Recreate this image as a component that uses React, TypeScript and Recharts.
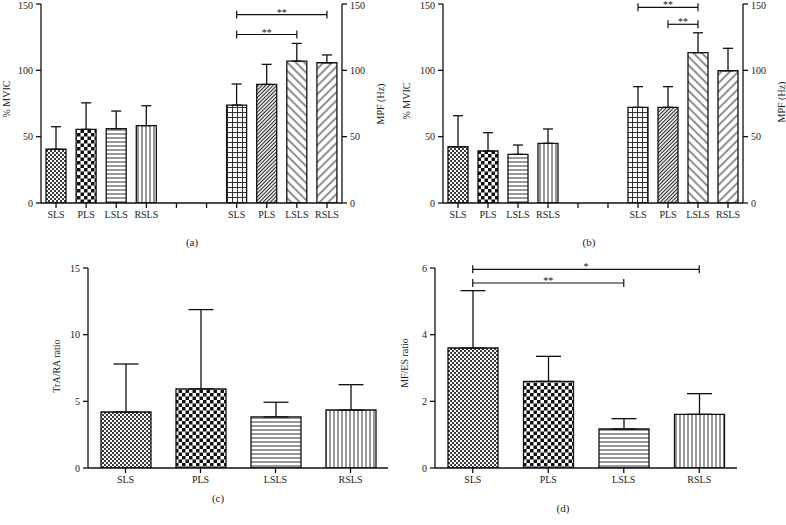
import React from "react";
import { ComposedChart, Bar, Line, XAxis, YAxis, ErrorBar, Cell, ReferenceLine } from "recharts";

// categories
const groupCats = ["SLS", "PLS", "LSLS", "RSLS"];
const gapCats = ["gap1", "gap2"];

// panel (a) – % MVIC (left group) and MPF in Hz (right group)
const emgA = [40.5, 55.5, 56, 58.3];
const emgAErr = [17, 20, 13.3, 15];
const mpfA = [73.8, 89.4, 107, 105.7];
const mpfAErr = [15.9, 15.1, 13.3, 5.9];

// panel (b)
const emgB = [42.4, 39.2, 36.7, 45];
const emgBErr = [23.4, 13.8, 7, 10.8];
const mpfB = [72.1, 72.1, 113.3, 99.7];
const mpfBErr = [15.6, 15.6, 15, 16.9];

// panel (c) – TrA/RA ratio
const traRa = [4.2, 5.93, 3.83, 4.35];
const traRaErr = [3.6, 5.95, 1.1, 1.9];

// panel (d) – MF/ES ratio
const mfEs = [3.6, 2.6, 1.17, 1.61];
const mfEsErr = [1.72, 0.75, 0.31, 0.62];

const ticksPct = [0, 50, 100, 150];
const ticksC = [0, 5, 10, 15];
const ticksD = [0, 2, 4, 6];

// significance brackets
const bracketsA = [
  { from: "m-SLS", to: "m-RSLS", y: 142, text: "**" },
  { from: "m-SLS", to: "m-LSLS", y: 127, text: "**" },
];
const bracketsB = [
  { from: "m-SLS", to: "m-LSLS", y: 147.5, text: "**" },
  { from: "m-PLS", to: "m-LSLS", y: 134.7, text: "**" },
];
const bracketsD = [
  { from: "SLS", to: "RSLS", y: 5.96, text: "*" },
  { from: "SLS", to: "LSLS", y: 5.55, text: "**" },
];

const leftFills = ["url(#fineCheck)", "url(#check)", "url(#hLines)", "url(#vLines)"];
const rightFills = ["url(#grid)", "url(#denseDiag)", "url(#backDiag)", "url(#fwdDiag)"];

type Row = { key: string; label: string; value: number | null; err: [number, number] | null; fill: string };

const makeSplitRows = (emg: number[], emgErr: number[], mpf: number[], mpfErr: number[]): Row[] => [
  ...groupCats.map((c, i) => ({ key: "e-" + c, label: c, value: emg[i], err: [0, emgErr[i]] as [number, number], fill: leftFills[i] })),
  ...gapCats.map((g) => ({ key: g, label: "", value: null, err: null, fill: "none" })),
  ...groupCats.map((c, i) => ({ key: "m-" + c, label: c, value: mpf[i], err: [0, mpfErr[i]] as [number, number], fill: rightFills[i] })),
];

const makeRows = (vals: number[], errs: number[]): Row[] =>
  groupCats.map((c, i) => ({ key: c, label: c, value: vals[i], err: [0, errs[i]] as [number, number], fill: leftFills[i] }));

const rowsA = makeSplitRows(emgA, emgAErr, mpfA, mpfAErr);
const rowsB = makeSplitRows(emgB, emgBErr, mpfB, mpfBErr);
const rowsC = makeRows(traRa, traRaErr);
const rowsD = makeRows(mfEs, mfEsErr);

const FONT = "'Liberation Serif', 'DejaVu Serif', serif";
const tickStyle = { fontSize: 10, fill: "#222", fontFamily: FONT };
const axisLine = { stroke: "#111", strokeWidth: 1.3 };

type Bracket = { from: string; to: string; y: number; text: string };

const renderBrackets = (list: Bracket[], half: number) =>
  list.flatMap((b, i) => [
    <ReferenceLine
      key={`h${i}`}
      yAxisId="left"
      segment={[{ x: b.from, y: b.y }, { x: b.to, y: b.y }]}
      stroke="#111"
      strokeWidth={1.2}
      ifOverflow="visible"
      label={{ value: b.text, position: "top", offset: -1, fontSize: 10, fill: "#111", fontFamily: FONT }}
    />,
    <ReferenceLine key={`l${i}`} yAxisId="left" segment={[{ x: b.from, y: b.y - half }, { x: b.from, y: b.y + half }]} stroke="#111" strokeWidth={1.2} ifOverflow="visible" />,
    <ReferenceLine key={`r${i}`} yAxisId="left" segment={[{ x: b.to, y: b.y - half }, { x: b.to, y: b.y + half }]} stroke="#111" strokeWidth={1.2} ifOverflow="visible" />,
  ]);

type PanelProps = {
  rows: Row[];
  width: number;
  height: number;
  margin: { top: number; right: number; bottom: number; left: number };
  yWidth: number;
  domain: [number, number];
  ticks: number[];
  barSize: number;
  capHalf: number;
  right?: boolean;
  brackets?: Bracket[];
  bracketHalf?: number;
};

const Panel = ({ rows, width, height, margin, yWidth, domain, ticks, barSize, capHalf, right, brackets, bracketHalf }: PanelProps) => (
  <ComposedChart width={width} height={height} data={rows} margin={margin} barSize={barSize} style={{ fontFamily: FONT }}>
    <XAxis
      dataKey="key"
      interval={0}
      tick={tickStyle}
      tickFormatter={(k: string) => rows.find((r) => r.key === k)?.label ?? ""}
      axisLine={axisLine}
      tickLine={axisLine}
      tickSize={5}
      tickMargin={3}
      height={30}
    />
    <YAxis
      yAxisId="left"
      domain={domain}
      ticks={ticks}
      width={yWidth}
      tick={tickStyle}
      axisLine={axisLine}
      tickLine={axisLine}
      tickSize={5}
      tickMargin={3}
      allowDataOverflow
    />
    {right && (
      <YAxis
        yAxisId="right"
        orientation="right"
        domain={domain}
        ticks={ticks}
        width={30}
        tick={tickStyle}
        axisLine={axisLine}
        tickLine={axisLine}
        tickSize={5}
        tickMargin={3}
        allowDataOverflow
      />
    )}
    <Bar yAxisId="left" dataKey="value" stroke="#111" strokeWidth={1.3} isAnimationActive={false}>
      {rows.map((r) => (
        <Cell key={r.key} fill={r.fill} />
      ))}
      <ErrorBar dataKey="err" width={capHalf} stroke="#111" strokeWidth={1.3} direction="y" />
    </Bar>
    {right && (
      <Line yAxisId="right" dataKey="value" stroke="none" dot={false} activeDot={false} isAnimationActive={false} />
    )}
    {brackets && renderBrackets(brackets, bracketHalf ?? 0)}
  </ComposedChart>
);

const Title = ({ x, y, text, rotate, size = 10 }: { x: number; y: number; text: string; rotate?: boolean; size?: number }) => (
  <div
    style={{
      position: "absolute",
      left: x,
      top: y,
      transform: `translate(-50%, -50%)${rotate ? " rotate(-90deg)" : ""}`,
      whiteSpace: "nowrap",
      fontFamily: FONT,
      fontSize: size,
      color: "#222",
      lineHeight: 1,
    }}
  >
    {text}
  </div>
);

const Patterns = () => (
  <svg width={0} height={0} style={{ position: "absolute" }}>
    <defs>
      <pattern id="fineCheck" width={4} height={4} patternUnits="userSpaceOnUse">
        <rect width={4} height={4} fill="#fff" />
        <rect width={2} height={2} fill="#3a3a3a" />
        <rect x={2} y={2} width={2} height={2} fill="#3a3a3a" />
      </pattern>
      <pattern id="check" width={7} height={7} patternUnits="userSpaceOnUse">
        <rect width={7} height={7} fill="#fff" />
        <rect width={3.5} height={3.5} fill="#111" />
        <rect x={3.5} y={3.5} width={3.5} height={3.5} fill="#111" />
      </pattern>
      <pattern id="hLines" width={4} height={4} patternUnits="userSpaceOnUse">
        <rect width={4} height={4} fill="#fff" />
        <line x1={0} y1={2} x2={4} y2={2} stroke="#333" strokeWidth={1} />
      </pattern>
      <pattern id="vLines" width={4} height={4} patternUnits="userSpaceOnUse">
        <rect width={4} height={4} fill="#fff" />
        <line x1={2} y1={0} x2={2} y2={4} stroke="#333" strokeWidth={1} />
      </pattern>
      <pattern id="grid" width={5} height={5} patternUnits="userSpaceOnUse">
        <rect width={5} height={5} fill="#fff" />
        <line x1={0} y1={2.5} x2={5} y2={2.5} stroke="#333" strokeWidth={1} />
        <line x1={2.5} y1={0} x2={2.5} y2={5} stroke="#333" strokeWidth={1} />
      </pattern>
      <pattern id="denseDiag" width={2.6} height={2.6} patternUnits="userSpaceOnUse" patternTransform="rotate(45)">
        <rect width={2.6} height={2.6} fill="#fff" />
        <line x1={1.3} y1={0} x2={1.3} y2={2.6} stroke="#222" strokeWidth={1.1} />
      </pattern>
      <pattern id="backDiag" width={6} height={6} patternUnits="userSpaceOnUse" patternTransform="rotate(-45)">
        <rect width={6} height={6} fill="#fff" />
        <line x1={3} y1={0} x2={3} y2={6} stroke="#222" strokeWidth={1} />
      </pattern>
      <pattern id="fwdDiag" width={6} height={6} patternUnits="userSpaceOnUse" patternTransform="rotate(45)">
        <rect width={6} height={6} fill="#fff" />
        <line x1={3} y1={0} x2={3} y2={6} stroke="#222" strokeWidth={1} />
      </pattern>
    </defs>
  </svg>
);

export default function App() {
  return (
    <div style={{ position: "absolute", left: 0, top: 0, width: 786, height: 525, background: "#fff", overflow: "hidden" }}>
      <Patterns />
      <div style={{ position: "absolute", left: 0, top: 0 }}>
        <Panel
          rows={rowsA}
          width={390}
          height={260}
          margin={{ top: 4, right: 18, bottom: 27, left: 10 }}
          yWidth={31}
          domain={[0, 150]}
          ticks={ticksPct}
          barSize={20}
          capHalf={5}
          right
          brackets={bracketsA}
          bracketHalf={3}
        />
      </div>
      <div style={{ position: "absolute", left: 390, top: 0 }}>
        <Panel
          rows={rowsB}
          width={396}
          height={260}
          margin={{ top: 4, right: 13, bottom: 27, left: 22 }}
          yWidth={31}
          domain={[0, 150]}
          ticks={ticksPct}
          barSize={20}
          capHalf={5}
          right
          brackets={bracketsB}
          bracketHalf={3}
        />
      </div>
      <div style={{ position: "absolute", left: 0, top: 260 }}>
        <Panel
          rows={rowsC}
          width={390}
          height={265}
          margin={{ top: 8, right: 2, bottom: 27, left: 58 }}
          yWidth={30}
          domain={[0, 15]}
          ticks={ticksC}
          barSize={50}
          capHalf={12.5}
        />
      </div>
      <div style={{ position: "absolute", left: 390, top: 260 }}>
        <Panel
          rows={rowsD}
          width={396}
          height={265}
          margin={{ top: 8, right: 49, bottom: 27, left: 15 }}
          yWidth={30}
          domain={[0, 6]}
          ticks={ticksD}
          barSize={50}
          capHalf={12.5}
          brackets={bracketsD}
          bracketHalf={0.12}
        />
      </div>

      <Title x={7} y={99} text="% MVIC" rotate />
      <Title x={381} y={104} text="MPF (Hz)" rotate />
      <Title x={192} y={242} text="(a)" size={11} />
      <Title x={407} y={101} text="% MVIC" rotate />
      <Title x={782} y={102} text="MPF (Hz)" rotate />
      <Title x={589} y={242} text="(b)" size={11} />
      <Title x={57} y={366} text="TrA/RA ratio" rotate />
      <Title x={218} y={498} text="(c)" size={11} />
      <Title x={405} y={363} text="MF/ES ratio" rotate />
      <Title x={563} y={508} text="(d)" size={11} />
    </div>
  );
}
